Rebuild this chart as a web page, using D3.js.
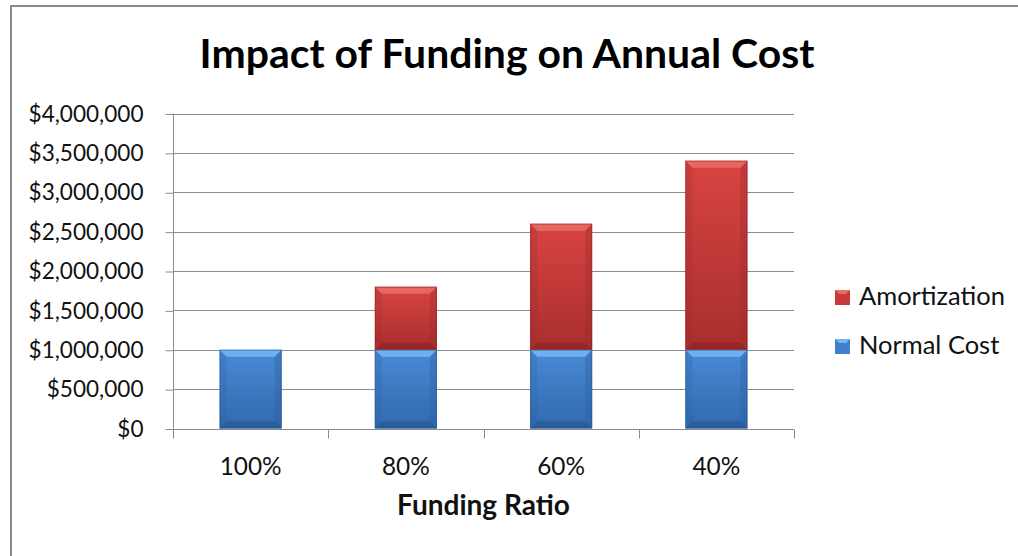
<!DOCTYPE html>
<html><head><meta charset="utf-8">
<script src="https://cdn.jsdelivr.net/npm/d3@7"></script>
<style>html,body{margin:0;padding:0;background:#fff;overflow:hidden}</style>
</head><body>
<svg id="c" width="1018" height="556"></svg>
<script>
const categories = ["100%", "80%", "60%", "40%"];
const normalCost = [1000000, 1000000, 1000000, 1000000];
const amortization = [0, 800000, 1600000, 2400000];
const seriesNames = ["Normal Cost", "Amortization"];
const yTicks = [0, 500000, 1000000, 1500000, 2000000, 2500000, 3000000, 3500000, 4000000];
const titleText = "Impact of Funding on Annual Cost";
const xTitle = "Funding Ratio";

const svg = d3.select("#c");
const FONT = "Lato, 'Open Sans', sans-serif";
const m = {left:173, right:794, top:113.5, bottom:428.5};

// helper: font size that makes a sample text reach a target width
function fitSize(sample, target, weight){
  const tmp = svg.append("text").attr("font-family",FONT).attr("font-weight",weight||"normal")
    .attr("font-size",20).text(sample);
  const w = tmp.node().getComputedTextLength();
  tmp.remove();
  return 20*target/w;
}

// outer border
svg.append("rect").attr("x",11).attr("y",6).attr("width",1030).attr("height",580)
  .attr("fill","#fff").attr("stroke","#8a8a8a").attr("stroke-width",2);

const x = d3.scaleBand().domain(categories).range([m.left,m.right]).paddingInner(0.6).paddingOuter(0.3);
const xb = d3.scaleBand().domain(categories).range([m.left,m.right]);
const y = d3.scaleLinear().domain([0,4000000]).range([m.bottom,m.top]);

// defs / gradients
const defs = svg.append("defs");
function grad(id, stops){
  const g = defs.append("linearGradient").attr("id",id).attr("x1",0).attr("y1",0).attr("x2",0).attr("y2",1);
  stops.forEach(s=>g.append("stop").attr("offset",s[0]).attr("stop-color",s[1]));
}
grad("gBlue", [[0,"#4a8ad6"],[1,"#3069ad"]]);
grad("gRed", [[0,"#d84442"],[1,"#a82e2d"]]);
const colors = {"Normal Cost":{fill:"url(#gBlue)", top:"#72b6f3", side:"#2c5f9e", bot:"#224d80", edge:"#27568f", leg:"#3f7fcc"},
                "Amortization":{fill:"url(#gRed)", top:"#ea6a66", side:"#9c2b2a", bot:"#7f2020", edge:"#8c2626", leg:"#c63b3a"}};

// gridlines
svg.append("g").selectAll("line").data(yTicks.slice(1)).join("line")
  .attr("x1",m.left).attr("x2",m.right).attr("y1",d=>Math.round(y(d))+0.5).attr("y2",d=>Math.round(y(d))+0.5)
  .attr("stroke","#8c8c8c").attr("stroke-width",1);

const labelSize = fitSize("$4,000,000", 115);

// y axis
const yAxis = d3.axisLeft(y).tickValues(yTicks).tickSize(8).tickPadding(22)
  .tickFormat(d=>"$"+d3.format(",")(d));
const ya = svg.append("g").attr("transform",`translate(${m.left+0.5},0)`).call(yAxis);
ya.select(".domain").attr("stroke","#8c8c8c").attr("d",`M0,${m.top}V${m.bottom}`);
ya.selectAll(".tick line").attr("stroke","#8c8c8c").attr("transform","translate(0,0.5)");
ya.selectAll("text").attr("font-family",FONT).attr("font-size",labelSize).attr("fill","#111").attr("dy","0.34em");

// x axis
const xg = svg.append("g").attr("transform",`translate(0,${Math.round(m.bottom)+0.5})`);
xg.append("line").attr("x1",m.left).attr("x2",m.right).attr("stroke","#8c8c8c");
const bounds = categories.map(c=>xb(c)).concat([m.right]);
xg.selectAll("line.t").data(bounds).join("line").attr("class","t")
  .attr("x1",d=>Math.round(d)+0.5).attr("x2",d=>Math.round(d)+0.5).attr("y1",0).attr("y2",9).attr("stroke","#8c8c8c");
const xlSize = fitSize("100%", 62);
xg.selectAll("text").data(categories).join("text")
  .attr("x",d=>xb(d)+xb.bandwidth()/2).attr("y",45).attr("text-anchor","middle")
  .attr("font-family",FONT).attr("font-size",xlSize).attr("fill","#111").text(d=>d);

// bars
const stacked = d3.stack().keys(seriesNames)(categories.map((c,i)=>({cat:c,"Normal Cost":normalCost[i],"Amortization":amortization[i]})));
const bw = x.bandwidth();
const bv = 7;
stacked.forEach(layer=>{
  const col = colors[layer.key];
  const g = svg.append("g");
  layer.forEach(d=>{
    const x0 = x(d.data.cat), y0 = y(d[1]), y1 = y(d[0]);
    const h = y1 - y0;
    if (h <= 0.5) return;
    g.append("rect").attr("x",x0).attr("y",y0).attr("width",bw).attr("height",h).attr("fill",col.fill);
    g.append("path").attr("d",`M${x0},${y0}L${x0+bw},${y0}L${x0+bw-bv},${y0+bv}L${x0+bv},${y0+bv}Z`).attr("fill",col.top).attr("opacity",0.9);
    g.append("path").attr("d",`M${x0},${y0}L${x0+bv},${y0+bv}L${x0+bv},${y1-bv}L${x0},${y1}Z`).attr("fill",col.side).attr("opacity",0.25);
    g.append("path").attr("d",`M${x0+bw},${y0}L${x0+bw-bv},${y0+bv}L${x0+bw-bv},${y1-bv}L${x0+bw},${y1}Z`).attr("fill",col.side).attr("opacity",0.35);
    g.append("path").attr("d",`M${x0},${y1}L${x0+bw},${y1}L${x0+bw-bv},${y1-bv}L${x0+bv},${y1-bv}Z`).attr("fill",col.bot).attr("opacity",0.45);
    g.append("rect").attr("x",x0+0.5).attr("y",y0+0.5).attr("width",bw-1).attr("height",h-1)
      .attr("fill","none").attr("stroke",col.edge).attr("stroke-width",1).attr("opacity",0.5);
  });
});

// title
svg.append("text").attr("x",507).attr("y",68).attr("text-anchor","middle")
  .attr("font-family",FONT).attr("font-weight","bold").attr("font-size",fitSize(titleText,615,"bold"))
  .attr("fill","#000").text(titleText);

// x axis title
svg.append("text").attr("x",(m.left+m.right)/2).attr("y",515).attr("text-anchor","middle")
  .attr("font-family",FONT).attr("font-weight","bold").attr("font-size",fitSize(xTitle,173,"bold"))
  .attr("fill","#111").text(xTitle);

// legend
const legItems = ["Amortization","Normal Cost"];
const legSize = fitSize("Amortization", 146);
const lg = svg.append("g");
legItems.forEach((k,i)=>{
  const yy = 290 + i*49;
  const col = colors[k];
  lg.append("rect").attr("x",835).attr("y",yy).attr("width",15).attr("height",15).attr("fill",col.leg);
  lg.append("path").attr("d",`M835,${yy}L850,${yy}L846,${yy+4}L839,${yy+4}Z`).attr("fill",col.top);
  lg.append("text").attr("x",859).attr("y",yy+15).attr("font-family",FONT).attr("font-size",legSize).attr("fill","#111").text(k);
});
</script>
</body></html>
